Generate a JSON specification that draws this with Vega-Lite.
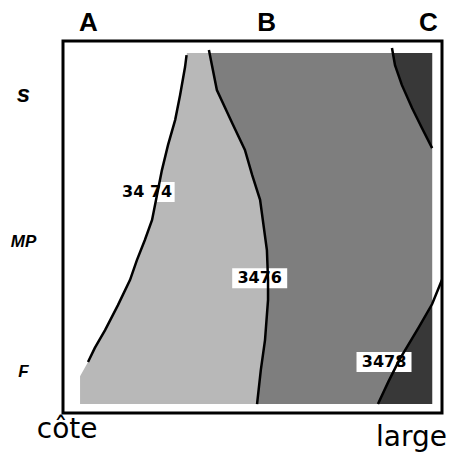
{
  "$schema": "https://vega.github.io/schema/vega-lite/v6.json",
  "width": 379,
  "height": 372,
  "autosize": "none",
  "padding": {"left": 63, "top": 41, "right": 8, "bottom": 41},
  "background": "white",
  "config": {"view": {"stroke": "black", "strokeWidth": 3}},
  "datasets": {
    "regions": [
      {"region": "light", "y": 3.2, "x": 32.7, "x2": 97.4},
      {"region": "light", "y": 7.0, "x": 32.2, "x2": 97.4},
      {"region": "light", "y": 14.5, "x": 30.9, "x2": 97.4},
      {"region": "light", "y": 21.2, "x": 29.6, "x2": 97.4},
      {"region": "light", "y": 28.0, "x": 27.7, "x2": 97.4},
      {"region": "light", "y": 34.7, "x": 26.1, "x2": 97.4},
      {"region": "light", "y": 41.4, "x": 24.8, "x2": 97.4},
      {"region": "light", "y": 48.1, "x": 23.5, "x2": 97.4},
      {"region": "light", "y": 53.5, "x": 21.6, "x2": 97.4},
      {"region": "light", "y": 58.9, "x": 19.5, "x2": 97.4},
      {"region": "light", "y": 64.2, "x": 17.7, "x2": 97.4},
      {"region": "light", "y": 71.0, "x": 14.5, "x2": 97.4},
      {"region": "light", "y": 77.7, "x": 11.1, "x2": 97.4},
      {"region": "light", "y": 82.5, "x": 8.4, "x2": 97.4},
      {"region": "light", "y": 86.3, "x": 6.6, "x2": 97.4},
      {"region": "light", "y": 90.1, "x": 4.5, "x2": 97.4},
      {"region": "light", "y": 97.6, "x": 4.5, "x2": 97.4},
      {"region": "medium", "y": 3.2, "x": 38.8, "x2": 97.4},
      {"region": "medium", "y": 13.2, "x": 40.6, "x2": 97.4},
      {"region": "medium", "y": 22.0, "x": 44.6, "x2": 97.4},
      {"region": "medium", "y": 29.3, "x": 48.0, "x2": 97.4},
      {"region": "medium", "y": 36.0, "x": 49.9, "x2": 97.4},
      {"region": "medium", "y": 42.7, "x": 52.0, "x2": 97.4},
      {"region": "medium", "y": 56.2, "x": 53.8, "x2": 97.4},
      {"region": "medium", "y": 64.2, "x": 54.1, "x2": 97.4},
      {"region": "medium", "y": 69.6, "x": 54.1, "x2": 97.4},
      {"region": "medium", "y": 80.4, "x": 53.3, "x2": 97.4},
      {"region": "medium", "y": 88.4, "x": 52.2, "x2": 97.4},
      {"region": "medium", "y": 97.6, "x": 51.2, "x2": 97.4},
      {"region": "dark_top", "y": 3.2, "x": 86.8, "x2": 97.4},
      {"region": "dark_top", "y": 6.5, "x": 87.6, "x2": 97.4},
      {"region": "dark_top", "y": 11.8, "x": 89.4, "x2": 97.4},
      {"region": "dark_top", "y": 18.0, "x": 92.1, "x2": 97.4},
      {"region": "dark_top", "y": 23.4, "x": 94.7, "x2": 97.4},
      {"region": "dark_top", "y": 28.8, "x": 97.4, "x2": 97.4},
      {"region": "dark_bottom", "y": 70.7, "x": 97.4, "x2": 97.4},
      {"region": "dark_bottom", "y": 76.9, "x": 93.9, "x2": 97.4},
      {"region": "dark_bottom", "y": 85.8, "x": 88.7, "x2": 97.4},
      {"region": "dark_bottom", "y": 91.7, "x": 85.8, "x2": 97.4},
      {"region": "dark_bottom", "y": 97.6, "x": 83.1, "x2": 97.4}
    ],
    "contours": [
      {"contour": "34.74", "order": 1, "x": 32.6, "y": 3.8},
      {"contour": "34.74", "order": 2, "x": 32.2, "y": 7.0},
      {"contour": "34.74", "order": 3, "x": 30.9, "y": 14.5},
      {"contour": "34.74", "order": 4, "x": 29.6, "y": 21.2},
      {"contour": "34.74", "order": 5, "x": 27.7, "y": 28.0},
      {"contour": "34.74", "order": 6, "x": 26.1, "y": 34.7},
      {"contour": "34.74", "order": 7, "x": 24.8, "y": 41.4},
      {"contour": "34.74", "order": 8, "x": 23.5, "y": 48.1},
      {"contour": "34.74", "order": 9, "x": 21.6, "y": 53.5},
      {"contour": "34.74", "order": 10, "x": 19.5, "y": 58.9},
      {"contour": "34.74", "order": 11, "x": 17.7, "y": 64.2},
      {"contour": "34.74", "order": 12, "x": 14.5, "y": 71.0},
      {"contour": "34.74", "order": 13, "x": 11.1, "y": 77.7},
      {"contour": "34.74", "order": 14, "x": 8.4, "y": 82.5},
      {"contour": "34.74", "order": 15, "x": 6.6, "y": 86.3},
      {"contour": "34.76", "order": 1, "x": 38.5, "y": 2.4},
      {"contour": "34.76", "order": 2, "x": 40.6, "y": 13.2},
      {"contour": "34.76", "order": 3, "x": 44.6, "y": 22.0},
      {"contour": "34.76", "order": 4, "x": 48.0, "y": 29.3},
      {"contour": "34.76", "order": 5, "x": 49.9, "y": 36.0},
      {"contour": "34.76", "order": 6, "x": 52.0, "y": 42.7},
      {"contour": "34.76", "order": 7, "x": 53.8, "y": 56.2},
      {"contour": "34.76", "order": 8, "x": 54.1, "y": 64.2},
      {"contour": "34.76", "order": 9, "x": 54.1, "y": 69.6},
      {"contour": "34.76", "order": 10, "x": 53.3, "y": 80.4},
      {"contour": "34.76", "order": 11, "x": 52.2, "y": 88.4},
      {"contour": "34.76", "order": 12, "x": 51.2, "y": 97.6},
      {"contour": "34.78 top", "order": 1, "x": 86.8, "y": 1.9},
      {"contour": "34.78 top", "order": 2, "x": 87.6, "y": 6.5},
      {"contour": "34.78 top", "order": 3, "x": 89.4, "y": 11.8},
      {"contour": "34.78 top", "order": 4, "x": 92.1, "y": 18.0},
      {"contour": "34.78 top", "order": 5, "x": 94.7, "y": 23.4},
      {"contour": "34.78 top", "order": 6, "x": 97.4, "y": 28.8},
      {"contour": "34.78 bottom", "order": 1, "x": 100.0, "y": 64.2},
      {"contour": "34.78 bottom", "order": 2, "x": 97.4, "y": 70.7},
      {"contour": "34.78 bottom", "order": 3, "x": 93.9, "y": 76.9},
      {"contour": "34.78 bottom", "order": 4, "x": 88.7, "y": 85.8},
      {"contour": "34.78 bottom", "order": 5, "x": 85.8, "y": 91.7},
      {"contour": "34.78 bottom", "order": 6, "x": 83.1, "y": 97.6}
    ],
    "labels": [
      {"label": "34 74", "x": 22.2, "y": 40.6},
      {"label": "3476", "x": 51.9, "y": 63.8},
      {"label": "3478", "x": 84.7, "y": 86.3}
    ],
    "notes": [
      {"text": "côte", "x": -6.9, "y": 106.7},
      {"text": "large", "x": 82.6, "y": 108.9}
    ]
  },
  "encoding": {
    "x": {
      "field": "x",
      "type": "quantitative",
      "scale": {"domain": [0, 100], "nice": false, "zero": false},
      "axis": {
        "orient": "top",
        "values": [6.6, 53.6, 96.3],
        "labelExpr": "datum.value < 20 ? 'A' : datum.value < 70 ? 'B' : 'C'",
        "title": null,
        "domain": false,
        "ticks": false,
        "tickSize": 0,
        "grid": false,
        "labelFont": "Liberation Sans",
        "labelFontSize": 26,
        "labelFontWeight": "bold",
        "labelColor": "black",
        "labelBaseline": "alphabetic",
        "labelPadding": 11,
        "labelFlush": false,
        "labelOverlap": false,
        "labelBound": false
      }
    },
    "y": {
      "field": "y",
      "type": "quantitative",
      "scale": {"domain": [0, 100], "nice": false, "zero": false, "reverse": true},
      "axis": {
        "values": [14.4, 54.0, 88.8],
        "labelExpr": "datum.value < 30 ? 's' : datum.value < 70 ? 'MP' : 'F'",
        "title": null,
        "domain": false,
        "ticks": false,
        "tickSize": 0,
        "grid": false,
        "labelFont": "Liberation Sans",
        "labelFontSize": {"condition": {"test": "datum.value < 30", "value": 24}, "value": 17},
        "labelFontWeight": "bold",
        "labelFontStyle": "italic",
        "labelColor": "black",
        "labelAlign": "center",
        "labelBaseline": "middle",
        "labelPadding": 40,
        "labelFlush": false,
        "labelOverlap": false,
        "labelBound": false
      }
    }
  },
  "layer": [
    {
      "data": {"name": "regions"},
      "transform": [{"filter": "datum.region === 'light'"}],
      "mark": {"type": "area", "orient": "horizontal", "fill": "#b8b8b8", "stroke": null},
      "encoding": {
        "x": {"field": "x", "type": "quantitative", "stack": null},
        "x2": {"field": "x2"}
      }
    },
    {
      "data": {"name": "regions"},
      "transform": [{"filter": "datum.region === 'medium'"}],
      "mark": {"type": "area", "orient": "horizontal", "fill": "#7e7e7e", "stroke": null},
      "encoding": {
        "x": {"field": "x", "type": "quantitative", "stack": null},
        "x2": {"field": "x2"}
      }
    },
    {
      "data": {"name": "regions"},
      "transform": [{"filter": "datum.region === 'dark_top' || datum.region === 'dark_bottom'"}],
      "mark": {"type": "area", "orient": "horizontal", "fill": "#383838", "stroke": null},
      "encoding": {
        "x": {"field": "x", "type": "quantitative", "stack": null},
        "x2": {"field": "x2"},
        "detail": {"field": "region"}
      }
    },
    {
      "data": {"name": "labels"},
      "mark": {"type": "point", "shape": "M-1.375,-0.5H1.375V0.5H-1.375Z", "size": 1600, "filled": true, "fill": "white", "opacity": 1, "strokeWidth": 0}
    },
    {
      "data": {"name": "contours"},
      "mark": {"type": "line", "color": "black", "strokeWidth": 2.5},
      "encoding": {
        "detail": {"field": "contour"},
        "order": {"field": "order", "type": "quantitative"}
      }
    },
    {
      "data": {"name": "labels"},
      "mark": {"type": "text", "font": "DejaVu Sans", "fontWeight": "bold", "fontSize": 16, "color": "black", "align": "center", "baseline": "middle"},
      "encoding": {"text": {"field": "label"}}
    },
    {
      "data": {"name": "notes"},
      "mark": {"type": "text", "font": "DejaVu Sans", "fontSize": 28, "color": "black", "align": "left", "baseline": "alphabetic", "clip": false},
      "encoding": {"text": {"field": "text"}}
    }
  ]
}
